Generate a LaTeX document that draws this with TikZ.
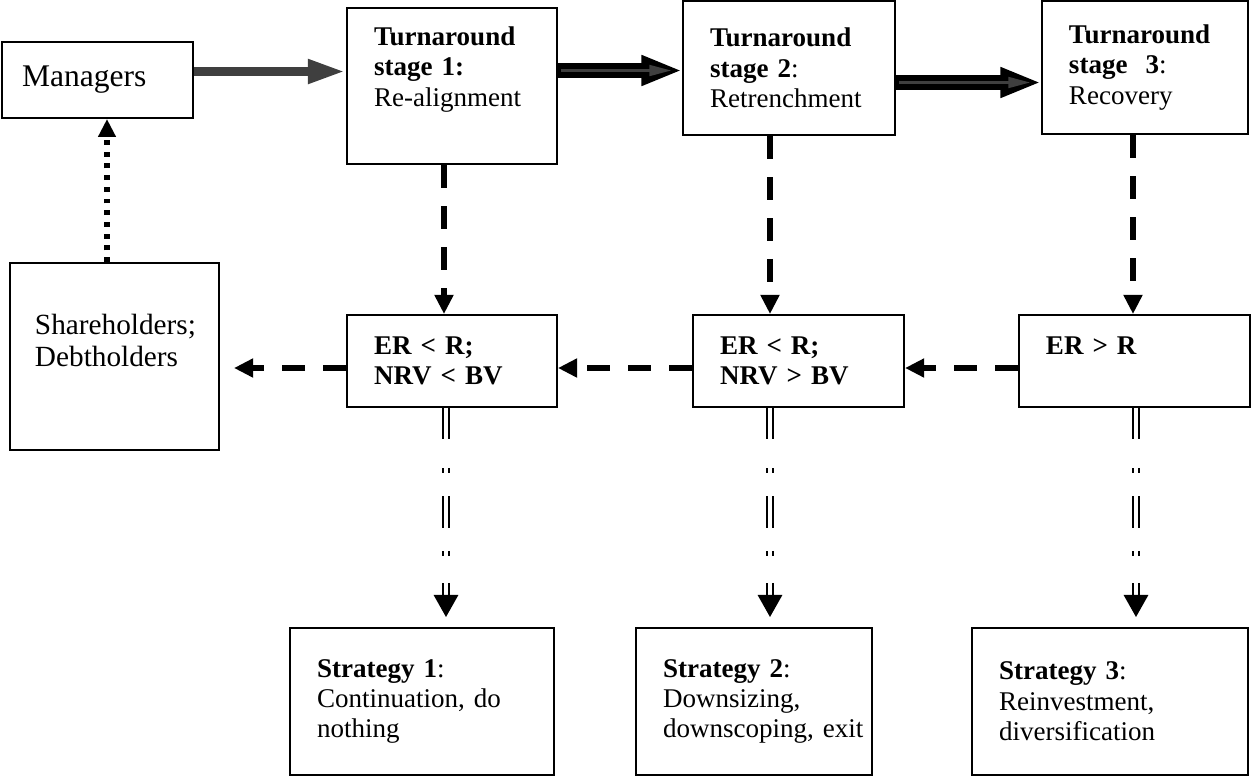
\documentclass[tikz,border=0pt]{standalone}
\usepackage{fontspec}
\setmainfont{Liberation Serif}
\usetikzlibrary{arrows.meta}
\definecolor{arrowgray}{HTML}{3F3F3F}

\begin{document}
\begin{tikzpicture}[x=0.444pt,y=-0.444pt,
    box/.style={draw, line width=0.9pt, align=left, inner xsep=12pt, inner ysep=0pt,
      font=\fontsize{12}{13.5}\selectfont},
    fatarrow/.style={draw=arrowgray, line width=4.4pt, -{Triangle[length=16.9pt,width=9.8pt]}},
    heavyarrow/.style={line width=6.7pt, -{Triangle[length=18pt,width=12.4pt]}},
    heavyinner/.style={draw=arrowgray, line width=1.6pt, shorten <=1.5pt, shorten >=4.5pt,
      -{Triangle[length=10pt,width=4.6pt]}},
    dasharrow/.style={line width=2.7pt, dash pattern=on 10.2pt off 8pt,
      -{Triangle[length=8.5pt,width=8pt]}},
    dotarrow/.style={line width=2.7pt, dash pattern=on 2.2pt off 3pt,
      -{Triangle[length=8pt,width=7.5pt]}},
    dblarrow/.style={line width=1.25pt, double, double distance=1.4pt, shorten >=4.4pt,
      dash pattern=on 13.8pt off 12.9pt on 2.2pt off 10.2pt on 14.2pt off 10.2pt on 2.2pt off 12pt on 12pt off 1pt,
      -{Triangle[length=9.8pt,width=10.7pt]}}]
  \useasboundingbox (0,0) rectangle (1258,776);

  \node[box, inner xsep=8.9pt, text width=67pt, minimum height=33.7pt,
    font=\fontsize{14}{16}\selectfont] (mgr) at (97.5,80) {Managers};
  \node[box, text width=69.2pt, minimum height=69.3pt] (st1) at (452,86)
    {\textbf{Turnaround}\\\textbf{stage 1:}\\Re-alignment\\[4pt]~};
  \node[box, text width=70.1pt, minimum height=59.5pt] (st2) at (789,68)
    {\textbf{Turnaround}\\\textbf{stage 2}:\\Retrenchment};
  \node[box, text width=67.5pt, minimum height=59.1pt] (st3) at (1145,67.5)
    {\textbf{Turnaround}\\\textbf{stage\ \ 3}:\\Recovery};

  \node[box, font=\fontsize{12}{13.5}\selectfont\bfseries, text width=69.2pt,
    minimum height=40.8pt] (er1) at (452,361) {ER < R;\\NRV < BV};
  \node[box, font=\fontsize{12}{13.5}\selectfont\bfseries, text width=69.7pt,
    minimum height=40.8pt] (er2) at (798.5,361) {ER < R;\\NRV > BV};
  \node[box, font=\fontsize{12}{13.5}\selectfont\bfseries, text width=78.6pt,
    minimum height=40.8pt] (er3) at (1134.5,361) {ER > R\\~};

  \node[box, inner xsep=11.1pt, text width=70.6pt, minimum height=83pt,
    font=\fontsize{13}{14.5}\selectfont] (sh) at (114.5,356.5)
    {Shareholders;\\Debtholders\\~};

  \node[box, text width=93.2pt, minimum height=65.3pt] (sg1) at (422,701.5)
    {\textbf{Strategy 1}:\\Continuation, do\\nothing};
  \node[box, text width=80.8pt, minimum height=65.3pt] (sg2) at (754,701.5)
    {\textbf{Strategy 2}:\\Downsizing,\\downscoping,~exit};
  \node[box, text width=98.5pt, minimum height=65.3pt] (sg3) at (1110,701.5)
    {\textbf{Strategy 3}:\\Reinvestment,\\diversification};

  \draw[fatarrow] (mgr.east |- 0,71.5) -- (st1.west |- 0,71.5);
  \draw[heavyarrow] (st1.east |- 0,70.5) -- (st2.west |- 0,70.5);
  \draw[heavyinner] (st1.east |- 0,70.5) -- (st2.west |- 0,70.5);
  \draw[heavyarrow] (st2.east |- 0,82.5) -- (st3.west |- 0,82.5);
  \draw[heavyinner] (st2.east |- 0,82.5) -- (st3.west |- 0,82.5);

  \draw[dasharrow] (st1.south -| 444,0) -- (er1.north -| 444,0);
  \draw[dasharrow] (st2.south -| 770,0) -- (er2.north -| 770,0);
  \draw[dasharrow] (st3.south -| 1133,0) -- (er3.north -| 1133,0);

  \draw[dasharrow] (er3.west |- 0,368) -- (er2.east |- 0,368);
  \draw[dasharrow] (er2.west |- 0,368) -- (er1.east |- 0,368);
  \draw[dasharrow, shorten >=6.2pt] (er1.west |- 0,368) -- (sh.east |- 0,368);

  \draw[dotarrow] (sh.north -| 107,0) -- (mgr.south -| 107,0);

  \draw[dblarrow] (er1.south -| 446,0) -- (sg1.north -| 446,0);
  \draw[dblarrow] (er2.south -| 770,0) -- (sg2.north -| 770,0);
  \draw[dblarrow] (er3.south -| 1136,0) -- (sg3.north -| 1136,0);
\end{tikzpicture}
\end{document}
